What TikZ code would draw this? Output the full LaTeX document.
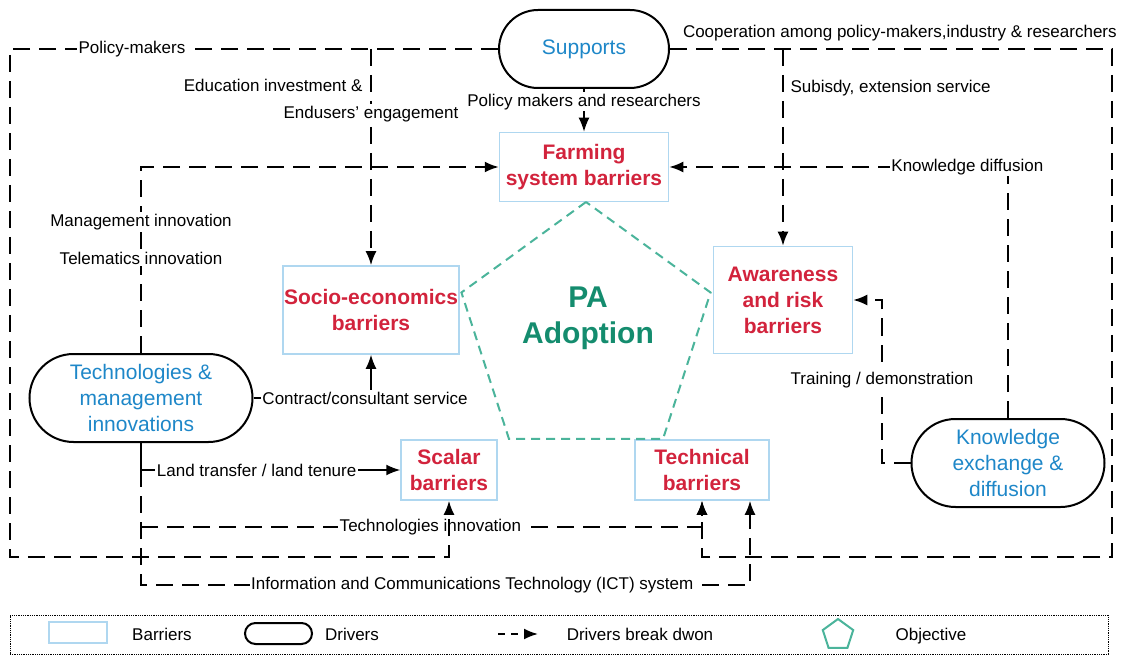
\documentclass[tikz,border=0pt]{standalone}
\usepackage{fontspec}
\setmainfont{Liberation Sans}
\usetikzlibrary{shapes,arrows,arrows.meta,positioning,calc}
\definecolor{barred}{RGB}{210,35,60}
\definecolor{drvblue}{RGB}{30,135,200}
\definecolor{pagreen}{RGB}{20,140,110}
\definecolor{objteal}{RGB}{75,180,155}
\definecolor{boxblue}{RGB}{175,215,240}
\tikzstyle{barrier} = [draw=boxblue, line width=1.5pt, text=barred, font=\bfseries\fontsize{21}{26}\selectfont, align=center, inner sep=0pt]
\tikzstyle{driver} = [draw, line width=2pt, text=drvblue, font=\fontsize{21}{26}\selectfont, align=center, inner sep=0pt]
\tikzstyle{objective} = [draw=objteal, line width=2pt, dash pattern=on 9pt off 6pt, regular polygon, regular polygon sides=5, inner sep=0pt]
\tikzstyle{brk} = [->, line width=2pt, dash pattern=on 17pt off 9pt]
\tikzstyle{link} = [->, line width=1.6pt]
\tikzstyle{lbl} = [font=\fontsize{17}{20}\selectfont, fill=white, inner sep=1.5pt]

\begin{document}
\begin{tikzpicture}[x=1pt, y=-1pt, >={Latex[length=14pt,width=11pt]}]
    \useasboundingbox (0,0) rectangle (1128,655);
    % Drivers
    \node [driver, minimum width=170pt, minimum height=78pt, rounded corners=39pt] (supports) at (584,49) {Supports};
    \node [driver, minimum width=223pt, minimum height=88pt, rounded corners=44pt] (techmgmt) at (141,398) {Technologies \&\\management\\innovations};
    \node [driver, minimum width=193pt, minimum height=88pt, rounded corners=44pt] (knowledge) at (1008,463) {Knowledge\\exchange \&\\diffusion};
    % Barriers
    \node [barrier, minimum width=169pt, minimum height=69pt] (farming) at (584,167) {Farming\\system barriers};
    \node [barrier, minimum width=176pt, minimum height=88pt] (socio) at (371,310) {Socio-economics\\barriers};
    \node [barrier, minimum width=139pt, minimum height=107pt] (awareness) at (783,300) {Awareness\\and risk\\barriers};
    \node [barrier, minimum width=96pt, minimum height=60pt] (scalar) at (449,470) {Scalar\\barriers};
    \node [barrier, minimum width=134pt, minimum height=60pt] (technical) at (702,470) {Technical\\barriers};
    % Objective
    \node [objective, minimum size=262pt] (goal) at (586,333) {};
    \node [font=\bfseries\fontsize{30}{36}\selectfont, text=pagreen, align=center] (adoption) at (588,318) {PA\\Adoption};

    % Bends
    \coordinate (tlcorner) at (10,49);
    \coordinate (blcorner) at (10,557);
    \coordinate (trcorner) at (1112,49);
    \coordinate (brcorner) at (1112,557);
    \coordinate (trainbend) at (882,463);
    \coordinate (landbend) at (techmgmt.south |- scalar.west);
    \coordinate (tibend) at (141,527);
    \coordinate (ictbend) at (141,585);

    % Connections
    \draw [brk] (supports.east) -- node[lbl, fill=none, anchor=south, yshift=5pt, pos=0.52] {Cooperation among policy-makers,industry \& researchers} (trcorner) -- (brcorner) -| (technical.south);
    \draw [brk] (awareness.north |- supports.east) -- node[lbl, fill=none, anchor=west, xshift=5pt, pos=0.2] {Subisdy, extension service} (awareness.north);
    \draw [brk] (socio.north |- supports.west) -- node[lbl, fill=none, anchor=east, xshift=-6pt, pos=0.17] {Education investment \&} node[lbl, pos=0.3] {Endusers' engagement} (socio.north);
    \draw [link] (supports.south) -- node[lbl, pos=0.3] {Policy makers and researchers} (farming.north);
    \draw [brk] (techmgmt.north) |- node[lbl, pos=0.353] {Management innovation} node[lbl, pos=0.254] {Telematics innovation} (farming.west);
    \draw [brk] (knowledge.north) |- node[lbl, pos=0.56] {Knowledge diffusion} (farming.east);
    \draw [brk] (knowledge.west) -- (trainbend) |- node[lbl, pos=0.255] {Training / demonstration} (awareness.east);
    \draw [link] (techmgmt.east) -| node[lbl, xshift=-6pt, pos=0.5] {Contract/consultant service} (socio.south);
    \draw [link] (techmgmt.south) |- node[lbl, pos=0.723] {Land transfer / land tenure} (scalar.west);
    \draw [brk] (landbend) -- (ictbend) -| node[lbl, pos=0.272] {Information and Communications Technology (ICT) system} ([xshift=48pt]technical.south);
    \draw [brk] (tibend) -| node[lbl, pos=0.258] {Technologies innovation} (technical.south);
    \draw [brk] (supports.west) -- node[lbl, pos=0.75] {Policy-makers} (tlcorner) -- (blcorner) -| (scalar.south);

    % Legend
    \node [draw, densely dotted, line width=0.8pt, minimum width=1098pt, minimum height=39pt, inner sep=0pt] (legend) at (559,634.5) {};
    \node [draw=boxblue, line width=1.5pt, minimum width=58pt, minimum height=21pt, inner sep=0pt] (keybarrier) at (78,632.5) {};
    \node [lbl, fill=none] (keybarriertxt) at (162,634) {Barriers};
    \node [draw, line width=2pt, rounded corners=10.5pt, minimum width=67pt, minimum height=21pt, inner sep=0pt] (keydriver) at (278.5,633.5) {};
    \node [lbl, fill=none] (keydrivertxt) at (352,634) {Drivers};
    \coordinate (keyarrowstart) at (498,634);
    \coordinate (keyarrowend) at (538,634);
    \draw [brk, dash pattern=on 7pt off 6pt] (keyarrowstart) -- (keyarrowend);
    \node [lbl, fill=none] (keyarrowtxt) at (640,634) {Drivers break dwon};
    \node [draw=objteal, line width=2pt, regular polygon, regular polygon sides=5, minimum size=32pt, inner sep=0pt] (keyobj) at (838,635) {};
    \node [lbl, fill=none] (keyobjtxt) at (931,636) {Objective};
\end{tikzpicture}
\end{document}
